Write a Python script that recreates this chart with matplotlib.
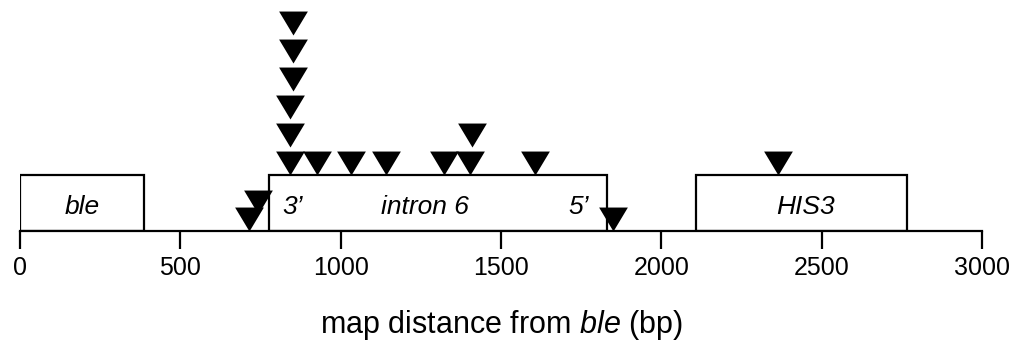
import matplotlib.pyplot as plt
from matplotlib.patches import Rectangle
from matplotlib.path import Path

plt.rcParams['font.family'] = ['Liberation Sans', 'DejaVu Sans']
plt.rcParams['mathtext.fontset'] = 'custom'
plt.rcParams['mathtext.rm'] = 'Liberation Sans'
plt.rcParams['mathtext.it'] = 'Liberation Sans:italic'

# boxes (bp)
box_names = ["ble", "intron 6", "HIS3"]
box_start = [0, 776, 2108]
box_end = [387, 1831, 2767]

# insertion sites (bp) and stacking level (tip height)
site_pos = [715, 741, 841, 841, 841, 850, 850, 850, 925, 1032, 1141, 1322, 1403, 1410, 1607, 1850, 2365]
site_level = [0, 0.3, 1, 1.5, 2, 2.5, 3, 3.5, 1, 1, 1, 1, 1, 1.5, 1, 0, 1]

# end labels of intron
end_labels = ["3\u2019", "5\u2019"]
end_pos = [850, 1743]

xticks = [0, 500, 1000, 1500, 2000, 2500, 3000]

fig = plt.figure(figsize=(10.21, 3.52), dpi=100)
ax = fig.add_axes([20 / 1021, 121 / 352, 962 / 1021, 224 / 352])

for name, s, e in zip(box_names, box_start, box_end):
    ax.add_patch(Rectangle((s, 0), e - s, 1, facecolor='white', edgecolor='black', lw=1.6, zorder=2))
    if name == "intron 6":
        cx = 1263
    elif name == "HIS3":
        cx = 2451
    else:
        cx = (s + e) / 2
    ax.text(cx, 0.43, name, style='italic', fontsize=19, ha='center', va='center', zorder=3)

for lab, p in zip(end_labels, end_pos):
    ax.text(p, 0.43, lab, style='italic', fontsize=19, ha='center', va='center', zorder=3)

# downward triangle with the tip at the data point
tri = Path([(0, 0), (-0.6, 1), (0.6, 1), (0, 0)], [Path.MOVETO, Path.LINETO, Path.LINETO, Path.CLOSEPOLY])
ax.plot(site_pos, site_level, linestyle='none', marker=tri, markersize=34.5,
        color='black', markeredgewidth=0, zorder=4, clip_on=False)

ax.set_xlim(0, 3000)
ax.set_ylim(0, 4)
ax.set_xticks(xticks)
ax.set_yticks([])
for sp in ['left', 'right', 'top']:
    ax.spines[sp].set_visible(False)
ax.spines['bottom'].set_linewidth(1.6)
ax.tick_params(axis='x', direction='out', length=13, width=1.6, labelsize=18, pad=5)
ax.patch.set_visible(False)

fig.text(501 / 1021, 1 - 325 / 352, 'map distance from $\\mathit{ble}$ (bp)', fontsize=22,
         ha='center', va='center')

fig.savefig('out.png', dpi=100)
